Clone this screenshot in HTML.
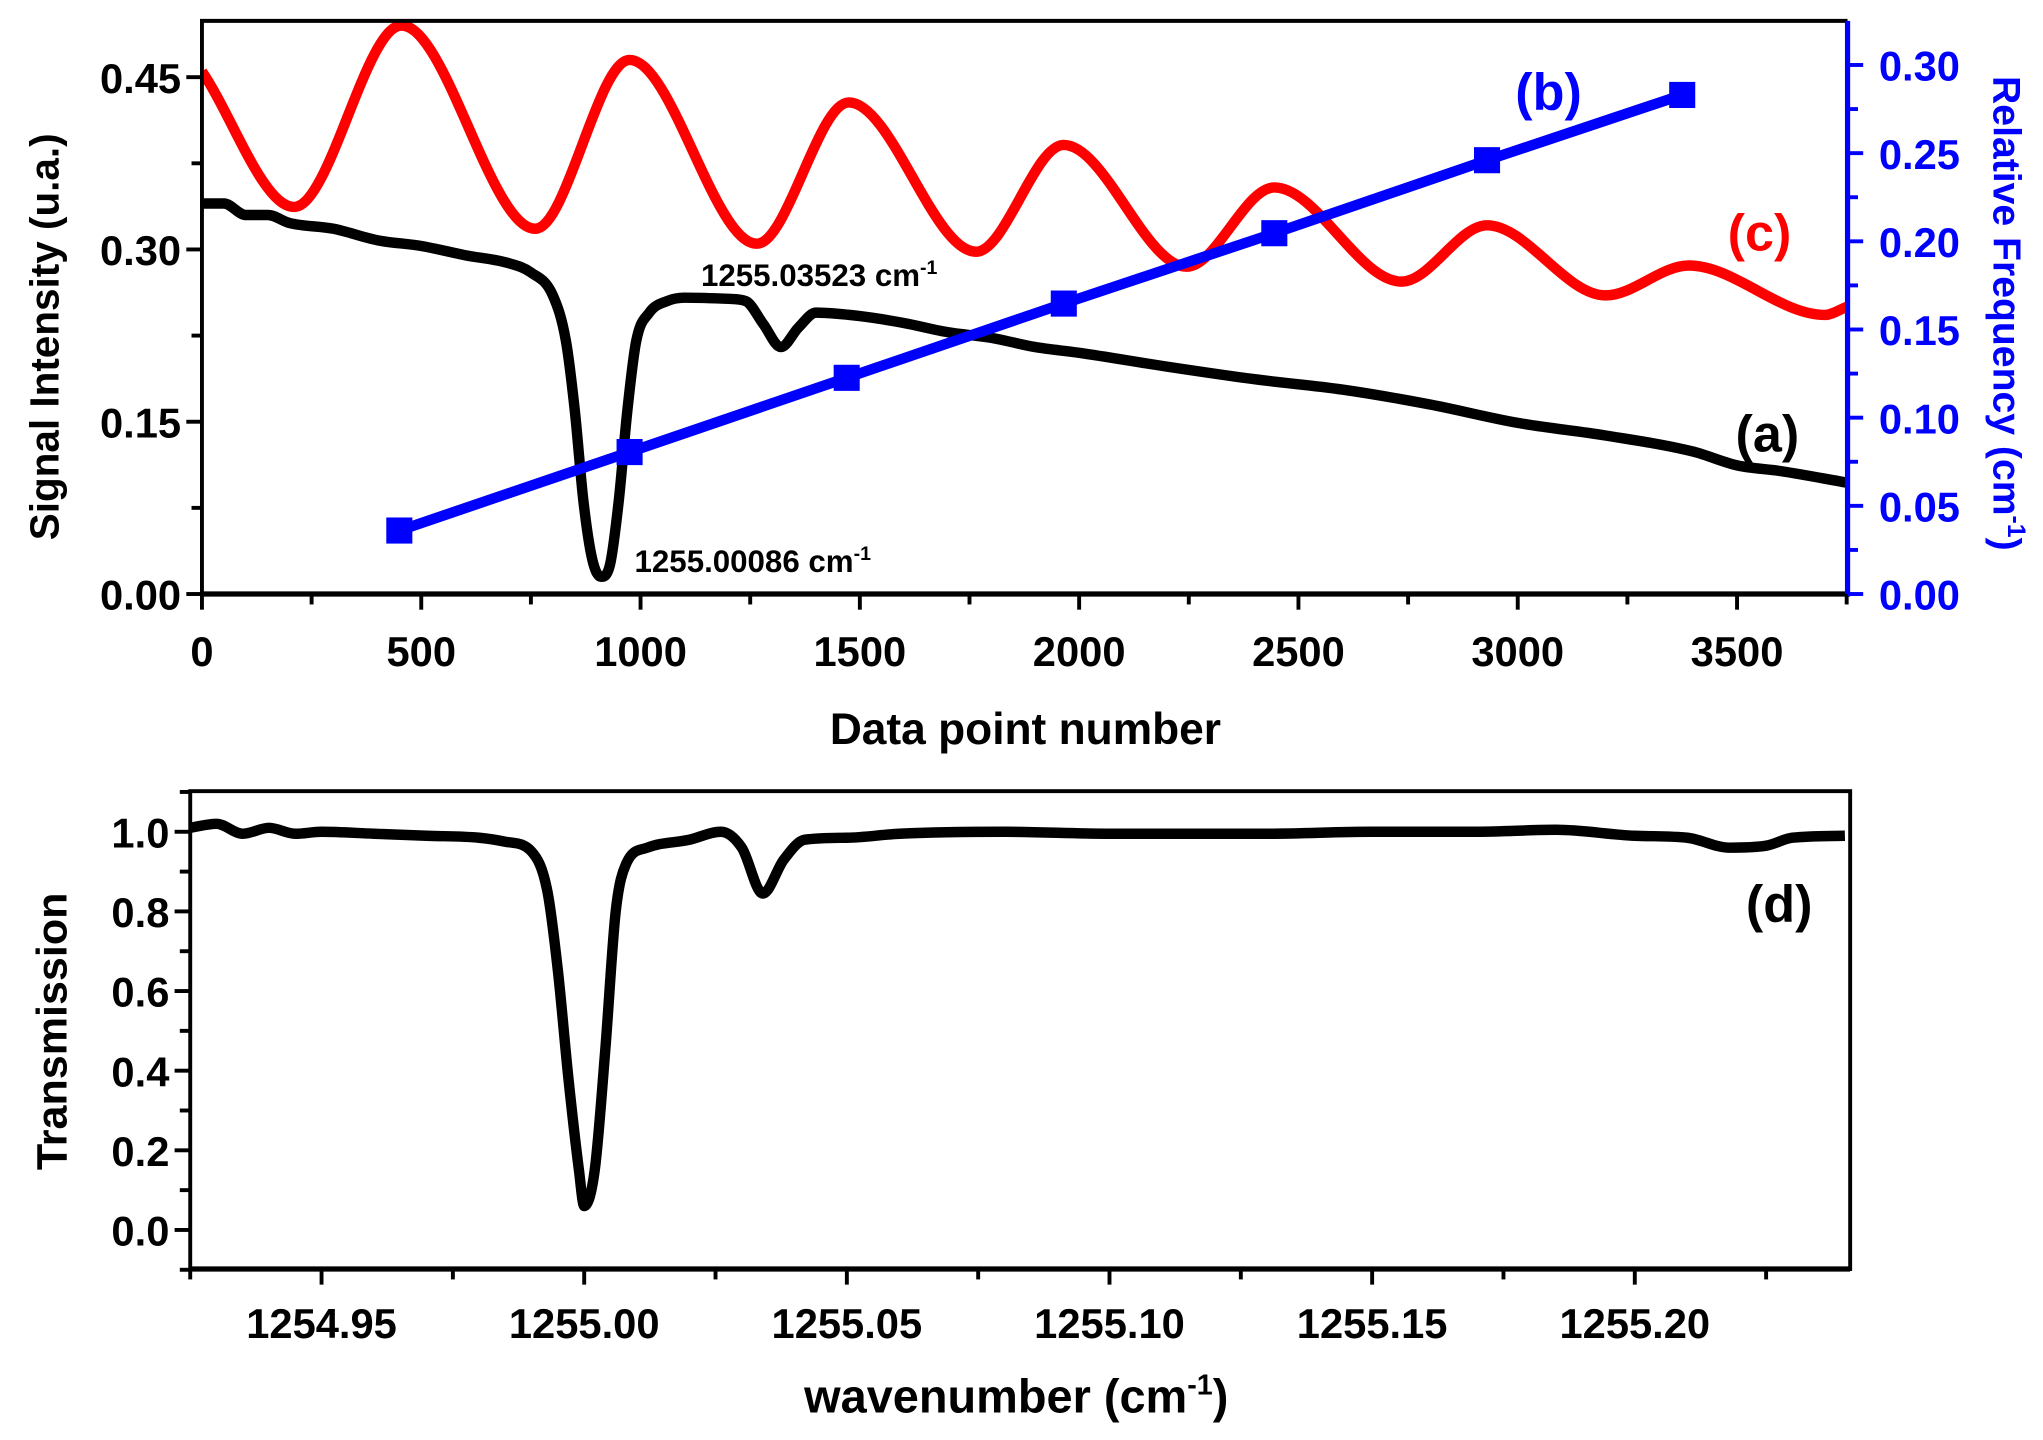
<!DOCTYPE html>
<html><head><meta charset="utf-8"><style>
html,body{margin:0;padding:0;background:#fff;}
svg{display:block;}
text{font-family:"Liberation Sans Narrow","Liberation Sans",sans-serif;font-weight:bold;}
</style></head><body>
<svg id="chart" width="2043" height="1440" viewBox="0 0 1568 1103" preserveAspectRatio="none" xmlns="http://www.w3.org/2000/svg"></svg>
<script>
// ---- data (top panel) ----
const aX = [0,50,100,150,200,300,400,500,600,700,750,800,830,850,870,890,910,930,950,970,990,1020,1060,1100,1200,1240,1280,1320,1360,1400,1500,1600,1700,1800,1900,2000,2200,2400,2600,2800,3000,3200,3400,3500,3600,3750];
const aY = [0.34,0.34,0.33,0.33,0.323,0.318,0.308,0.303,0.295,0.288,0.28,0.26,0.22,0.16,0.08,0.03,0.015,0.025,0.08,0.16,0.22,0.245,0.255,0.258,0.257,0.255,0.235,0.215,0.232,0.245,0.242,0.236,0.228,0.223,0.215,0.21,0.198,0.187,0.178,0.165,0.149,0.138,0.124,0.112,0.107,0.097];
const cX = [0,210,455,760,975,1265,1475,1765,1965,2245,2445,2735,2930,3200,3390,3700,3750];
const cY = [0.455,0.337,0.495,0.318,0.465,0.305,0.428,0.298,0.391,0.285,0.354,0.272,0.321,0.26,0.286,0.243,0.25];
const bX = [450,975,1470,1965,2445,2930,3375];
const bY = [0.036,0.0805,0.1226,0.1647,0.2046,0.246,0.283];
const topXTicks = [0,500,1000,1500,2000,2500,3000,3500];
const topYTicks = [0,0.15,0.30,0.45];
const rightYTicks = [0,0.05,0.10,0.15,0.20,0.25,0.30];
// ---- data (bottom panel) ----
const dX = [1254.925,1254.93,1254.935,1254.94,1254.945,1254.95,1254.96,1254.97,1254.98,1254.985,1254.99,1254.993,1254.995,1254.997,1254.999,1255.0,1255.002,1255.004,1255.006,1255.008,1255.012,1255.02,1255.026,1255.03,1255.034,1255.038,1255.042,1255.05,1255.06,1255.08,1255.1,1255.13,1255.15,1255.17,1255.185,1255.2,1255.21,1255.218,1255.225,1255.23,1255.24];
const dY = [1.01,1.02,0.995,1.01,0.995,1.0,0.995,0.99,0.985,0.975,0.95,0.85,0.65,0.38,0.15,0.06,0.15,0.45,0.8,0.92,0.96,0.98,1.0,0.96,0.845,0.93,0.98,0.985,0.995,1.0,0.995,0.995,1.0,1.0,1.005,0.99,0.985,0.96,0.965,0.985,0.99];
const botXTicks = [1254.95,1255.00,1255.05,1255.10,1255.15,1255.20];
const botYTicks = [0,0.2,0.4,0.6,0.8,1.0];

const NS="http://www.w3.org/2000/svg";
const svg=document.getElementById('chart');
function el(tag,attrs,parent){const e=document.createElementNS(NS,tag);for(const k in attrs)e.setAttribute(k,attrs[k]);(parent||svg).appendChild(e);return e;}
function txt(s,attrs,parent){const e=el('text',attrs,parent);e.textContent=s;return e;}

const T={x0:155,x1:1418,y0:455,y1:16,xmin:0,xmax:3752,ymin:0,ymax:0.499,rmin:0,rmax:0.325};
const tx=v=>T.x0+(v-T.xmin)/(T.xmax-T.xmin)*(T.x1-T.x0);
const ty=v=>T.y0-(v-T.ymin)/(T.ymax-T.ymin)*(T.y0-T.y1);
const tr=v=>T.y0-(v-T.rmin)/(T.rmax-T.rmin)*(T.y0-T.y1);
const B={x0:146,x1:1420,y0:972,y1:606,xmin:1254.925,xmax:1255.241,ymin:-0.098,ymax:1.102};
const bx=v=>B.x0+(v-B.xmin)/(B.xmax-B.xmin)*(B.x1-B.x0);
const by=v=>B.y0-(v-B.ymin)/(B.ymax-B.ymin)*(B.y0-B.y1);

function monotonePath(px,py){
  const n=px.length;if(n<2)return '';
  const d=[],m=[];
  for(let i=0;i<n-1;i++)d.push((py[i+1]-py[i])/(px[i+1]-px[i]));
  m[0]=d[0];m[n-1]=d[n-2];
  for(let i=1;i<n-1;i++){m[i]=(d[i-1]*d[i]<=0)?0:(d[i-1]+d[i])/2;}
  for(let i=0;i<n-1;i++){if(d[i]===0){m[i]=0;m[i+1]=0;continue;}const a=m[i]/d[i],b=m[i+1]/d[i],s=a*a+b*b;if(s>9){const t=3/Math.sqrt(s);m[i]=t*a*d[i];m[i+1]=t*b*d[i];}}
  let p='M'+px[0].toFixed(2)+','+py[0].toFixed(2);
  for(let i=0;i<n-1;i++){const h=(px[i+1]-px[i])/3;p+=' C'+(px[i]+h).toFixed(2)+','+(py[i]+m[i]*h).toFixed(2)+' '+(px[i+1]-h).toFixed(2)+','+(py[i+1]-m[i+1]*h).toFixed(2)+' '+px[i+1].toFixed(2)+','+py[i+1].toFixed(2);}
  return p;
}

// ===== TOP PANEL =====
const gTop=el('g',{});


const clipT=el('clipPath',{id:'clipT'});el('rect',{x:T.x0,y:T.y1-4,width:T.x1-T.x0,height:T.y0-T.y1+4},clipT);
const pc=el('path',{d:monotonePath(cX.map(tx),cY.map(ty)),fill:'none',stroke:'#ff0000','stroke-width':8,'stroke-linejoin':'round','clip-path':'url(#clipT)'},gTop);


const pa=el('path',{d:monotonePath(aX.map(tx),aY.map(ty)),fill:'none',stroke:'#000','stroke-width':8,'stroke-linejoin':'round','clip-path':'url(#clipT)'},gTop);


const pb=el('polyline',{points:bX.map((x,i)=>tx(x)+','+tr(bY[i])).join(' '),fill:'none',stroke:'#0000ff','stroke-width':8},gTop);


bX.forEach((x,i)=>{const r=el('rect',{x:tx(x)-10,y:tr(bY[i])-10,width:20,height:20,fill:'#0000ff'},gTop);
  
  });
const fr=el('path',{d:`M${T.x0},${T.y0} V${T.y1} H${T.x1}`,fill:'none',stroke:'#000','stroke-width':3},gTop);


const xa=el('line',{x1:T.x0,y1:T.y0,x2:T.x1,y2:T.y0,stroke:'#000','stroke-width':4},gTop);


const ra=el('line',{x1:T.x1,y1:T.y1,x2:T.x1,y2:T.y0+2,stroke:'#0000ff','stroke-width':4},gTop);


for(let v=0;v<=3750;v+=250){const major=(v%500===0);el('line',{x1:tx(v),y1:T.y0,x2:tx(v),y2:T.y0+(major?12:8),stroke:'#000','stroke-width':3},gTop);}
topXTicks.forEach(v=>{const t=txt(String(v),{x:tx(v),y:T.y0+55,'font-size':32,'text-anchor':'middle'},gTop);
  
  });
for(let v=0;v<=0.48;v+=0.075){const major=Math.abs((v/0.15)-Math.round(v/0.15))<1e-6;el('line',{x1:T.x0,y1:ty(v),x2:T.x0-(major?12:8),y2:ty(v),stroke:'#000','stroke-width':3},gTop);}
topYTicks.forEach(v=>{const t=txt(v.toFixed(2),{x:T.x0-16,y:ty(v)+12,'font-size':32,'text-anchor':'end'},gTop);
  
  });
for(let i=0;i<=12;i++){const v=i*0.025;const major=i%2===0;el('line',{x1:T.x1,y1:tr(v),x2:T.x1+(major?12:8),y2:tr(v),stroke:'#0000ff','stroke-width':3},gTop);}
rightYTicks.forEach(v=>{const t=txt(v.toFixed(2),{x:T.x1+24,y:tr(v)+12,'font-size':32,fill:'#0000ff'},gTop);
  
  });
let t;
t=txt('Data point number',{x:787,y:570,'font-size':34,'text-anchor':'middle','font-family':'Liberation Sans'},gTop);

t=txt('Signal Intensity (u.a.)',{x:0,y:0,'font-size':31,'text-anchor':'middle','font-family':'Liberation Sans',transform:'translate(45,258) rotate(-90)'},gTop);

t=el('text',{x:0,y:0,'font-size':30,'text-anchor':'middle','font-family':'Liberation Sans',fill:'#0000ff',transform:'translate(1530,240) rotate(90)'},gTop);
t.innerHTML='Relative Frequency (cm<tspan dy="-11" font-size="19">-1</tspan><tspan dy="11">)</tspan>';

t=el('text',{x:538,y:219,'font-size':24},gTop);t.innerHTML='1255.03523 cm<tspan dy="-9" font-size="15">-1</tspan>';

t=el('text',{x:487,y:438,'font-size':24},gTop);t.innerHTML='1255.00086 cm<tspan dy="-9" font-size="15">-1</tspan>';

t=txt('(a)',{x:1332,y:346,'font-size':40},gTop);
t=txt('(b)',{x:1163,y:84,'font-size':40,fill:'#0000ff'},gTop);
t=txt('(c)',{x:1326,y:192,'font-size':40,fill:'#ff0000'},gTop);

// ===== BOTTOM PANEL =====
const gB=el('g',{});


const pd=el('path',{d:monotonePath(dX.map(bx),dY.map(by)),fill:'none',stroke:'#000','stroke-width':8,'stroke-linejoin':'round'},gB);


const bf=el('rect',{x:B.x0,y:B.y1,width:B.x1-B.x0,height:B.y0-B.y1,fill:'none',stroke:'#000','stroke-width':3},gB);


el('line',{x1:B.x0,y1:B.y0,x2:B.x1,y2:B.y0,stroke:'#000','stroke-width':4},gB);
for(let i=0;i<=12;i++){const v=1254.925+i*0.025;if(v>B.xmax)break;const major=i%2===1;el('line',{x1:bx(v),y1:B.y0,x2:bx(v),y2:B.y0+(major?12:8),stroke:'#000','stroke-width':3},gB);}
botXTicks.forEach(v=>{const t=txt(v.toFixed(2),{x:bx(v),y:B.y0+53,'font-size':32,'text-anchor':'middle'},gB);
  
  });
for(let i=-1;i<=11;i++){const v=i*0.1;const major=(i%2===0);el('line',{x1:B.x0,y1:by(v),x2:B.x0-(major?12:8),y2:by(v),stroke:'#000','stroke-width':3},gB);}
botYTicks.forEach(v=>{const t=txt(v.toFixed(1),{x:B.x0-16,y:by(v)+12,'font-size':32,'text-anchor':'end'},gB);
  
  });
t=el('text',{x:780,y:1082,'font-size':36,'text-anchor':'middle','font-family':'Liberation Sans'},gB);
t.innerHTML='wavenumber (cm<tspan dy="-14" font-size="22">-1</tspan><tspan dy="14">)</tspan>';

t=txt('Transmission',{x:0,y:0,'font-size':33,'text-anchor':'middle','font-family':'Liberation Sans',transform:'translate(51,790) rotate(-90)'},gB);

t=txt('(d)',{x:1340,y:706,'font-size':40},gB);
</script>
</body></html>
